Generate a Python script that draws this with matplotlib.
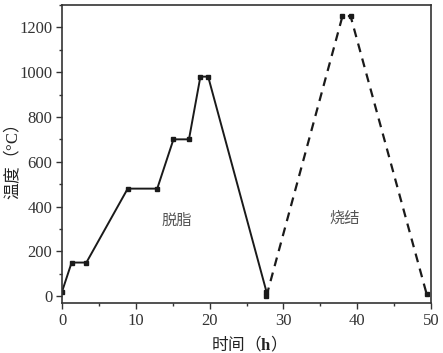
import matplotlib
matplotlib.use('Agg')
import matplotlib.pyplot as plt
from matplotlib.ticker import MultipleLocator

# 脱脂 stage (solid)
t_debind = [0, 1.3, 3.3, 8.9, 12.9, 15.1, 17.2, 18.75, 19.8, 27.7]
temp_debind = [20, 150, 150, 480, 480, 700, 700, 980, 980, 20]

# 烧结 stage (dashed)
t_sinter = [27.7, 38.0, 39.1, 49.4]
temp_sinter = [0, 1250, 1250, 10]

cjk = ['Noto Sans CJK SC', 'DejaVu Sans']
serif = 'Liberation Serif'
plt.rcParams['mathtext.fontset'] = 'custom'
plt.rcParams['mathtext.bf'] = 'Liberation Serif:bold'
plt.rcParams['mathtext.rm'] = 'Liberation Serif'

fig = plt.figure(figsize=(4.43, 3.53), dpi=100)
ax = fig.add_axes([0.140, 0.142, 0.833, 0.844])

ax.plot(t_debind, temp_debind, color='#1a1a1a', linewidth=1.4, linestyle='-',
        marker='s', markersize=2.5)
ax.plot(t_sinter, temp_sinter, color='#1a1a1a', linewidth=1.6, linestyle=(0, (4, 3)),
        marker='s', markersize=2.5)

ax.text(15.6, 338, '脱脂', family=cjk, fontsize=11, color='#555555', ha='center', va='center')
ax.text(38.3, 347, '烧结', family=cjk, fontsize=11, color='#555555', ha='center', va='center')

ax.set_xlim(0, 50)
ax.set_ylim(-30, 1300)
ax.xaxis.set_major_locator(MultipleLocator(10))
ax.xaxis.set_minor_locator(MultipleLocator(5))
ax.yaxis.set_major_locator(MultipleLocator(200))
ax.yaxis.set_minor_locator(MultipleLocator(100))
ax.tick_params(which='both', direction='out', top=False, right=False, color='#333333')
ax.tick_params(which='major', length=4, width=1, pad=3)
ax.tick_params(which='minor', length=2.5, width=1)
for lab in ax.get_xticklabels() + ax.get_yticklabels():
    lab.set_family(serif)
    lab.set_fontsize(12)
    lab.set_color('#333333')
for sp in ax.spines.values():
    sp.set_linewidth(1.2)
    sp.set_color('#333333')

ax.set_xlabel('时间（$\\mathbf{h}$）', family=cjk, fontsize=12, color='#222222')
ax.set_ylabel('温度（$\\mathrm{°C}$）', family=cjk, fontsize=12, color='#222222')
ax.xaxis.set_label_coords(0.493, -0.105)
ax.yaxis.set_label_coords(-0.108, 0.47)

fig.savefig('out.png', dpi=100)
